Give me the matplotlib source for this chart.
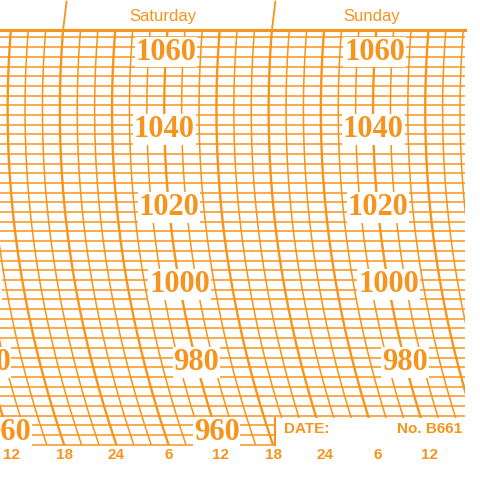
import numpy as np
import matplotlib
matplotlib.use("Agg")
import matplotlib.pyplot as plt
from matplotlib.patches import Rectangle

days = ["Saturday", "Sunday"]
day_starts = [12, 36]            # hours after Fri 12:00
hour_ticks = [0, 6, 12, 18, 24, 30, 36, 42, 48]
hour_labels = ["12", "18", "24", "6", "12", "18", "24", "6", "12"]
pressure_labels = [960, 980, 1000, 1020, 1040, 1060]
label_hours = [0, 24, 48]
chart_no = "No. B661"

OR = "#f7941d"
PXH = 8.7      # px per hour
PXP = 3.88     # px per hPa
P_TOP, P_BOT = 1065.6, 958.75
T_LEFT, T_RIGHT = -12/PXH, (465-12)/PXH
PV = 1045.0
def curve(p):
    return 5.05e-4*(PXP*(p-PV))**2/PXH
def xline(T, p):
    return T - curve(P_BOT) + curve(p)

fig = plt.figure(figsize=(4.8, 4.8), dpi=100)
ax = fig.add_axes([0, 0, 1, 1])
ax.set_xlim(-12/PXH, (480-12)/PXH)
ax.set_ylim(1060-428/PXP, 1060+52/PXP)
ax.axis("off")

clip = Rectangle((T_LEFT, P_BOT), T_RIGHT-T_LEFT, P_TOP-P_BOT, transform=ax.transData)
for p in np.arange(P_BOT, P_TOP+0.1, 2.5):
    lw = 2.0 if abs(p % 10) < 0.01 else 1.1
    ax.plot([T_LEFT, T_RIGHT], [p, p], color=OR, lw=lw, solid_capstyle="butt")
ps = np.linspace(P_BOT, P_TOP, 100)
for T in np.arange(-12, 72, 2):
    lw = 1.7 if T % 6 == 0 else 1.1
    l, = ax.plot(xline(T, ps), ps, color=OR, lw=lw)
    l.set_clip_path(clip)
ax.plot([T_LEFT, T_RIGHT], [P_TOP, P_TOP], color=OR, lw=2.2)
for T in day_starts:
    x0 = xline(T, P_TOP)
    ax.plot([x0, x0+0.4], [P_TOP, 1073], color=OR, lw=1.3)
for d, T in zip(days, day_starts):
    xm = xline(T, P_TOP) + 11.5
    ax.text(xm, 1069.2, d, color=OR, fontsize=12, ha="center", va="center",
            family="Liberation Sans")
for T in label_hours:
    for p in pressure_labels:
        if T == 48 and p == 960:
            continue
        yy = p if p > 960 else 962
        ax.text(xline(T, yy), yy, str(p), color=OR, fontsize=22, fontweight="bold",
                ha="center", va="center", family="Liberation Serif",
                bbox=dict(boxstyle="square,pad=0.03", fc="white", ec="none"))
bx0 = 275/PXH - 12/PXH
ax.add_patch(Rectangle((bx0, P_BOT-0.5), T_RIGHT-bx0+0.3, 7.5, fc="white", ec="none", zorder=3))
ax.plot([bx0, bx0], [P_BOT, P_BOT+7], color=OR, lw=1.5, zorder=4)
ax.text(bx0+1, 962.8, "DATE:", color=OR, fontsize=11, fontweight="bold",
        ha="left", va="center", family="Liberation Sans", zorder=4)
ax.text(T_RIGHT-0.3, 962.8, chart_no, color=OR, fontsize=11, fontweight="bold",
        ha="right", va="center", family="Liberation Sans", zorder=4)
for T, lab in zip(hour_ticks, hour_labels):
    ax.text(T, 1060-403/PXP, lab, color=OR, fontsize=11, fontweight="bold",
            ha="center", va="center", family="Liberation Sans")
fig.savefig("out.png", dpi=100)
